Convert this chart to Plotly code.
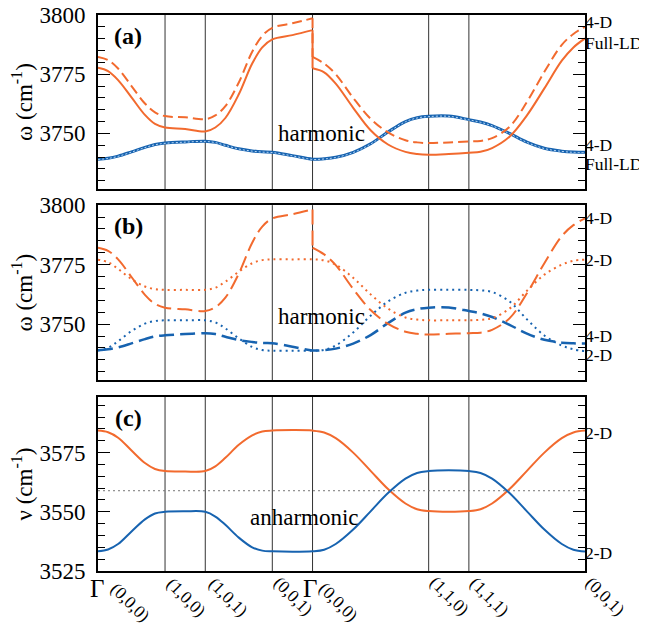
import plotly.graph_objects as go
from plotly.subplots import make_subplots

# ---------------- data ----------------
# high-symmetry points along the k-path (path length units)
k_nodes = [0.0, 1.0, 1.6, 2.6, 3.2, 4.932, 5.532, 7.264]
k_labels = ["(0,0,0)", "(1,0,0)", "(1,0,1)", "(0,0,1)",
            "(0,0,0)", "(1,1,0)", "(1,1,1)", "(0,0,1)"]
gamma_nodes = [0.0, 3.2]

# sampled k positions (continuous series)
k = [0.0, 0.15, 0.3, 0.5, 0.7, 0.85, 1.0,
     1.3, 1.6,
     1.75, 1.9, 2.1, 2.3, 2.45, 2.6,
     2.9, 3.2,
     3.373, 3.546, 3.806, 4.066, 4.326, 4.586, 4.759, 4.932,
     5.232, 5.532,
     5.705, 5.878, 6.138, 6.398, 6.658, 6.918, 7.091, 7.264]
# same path with the discontinuity at Gamma (k = 3.2 listed twice)
k_jump = [0.0, 0.15, 0.3, 0.5, 0.7, 0.85, 1.0,
          1.3, 1.6,
          1.75, 1.9, 2.1, 2.3, 2.45, 2.6,
          2.9, 3.2,
          3.2,
          3.373, 3.546, 3.806, 4.066, 4.326, 4.586, 4.759, 4.932,
          5.232, 5.532,
          5.705, 5.878, 6.138, 6.398, 6.658, 6.918, 7.091, 7.264]
N_LEFT = 17  # points before the jump at Gamma

# panel (a): harmonic, Full-LD vs 4-D
a_fullld_upper = [3777.7, 3776.3, 3772.5, 3765.2, 3757.8, 3754.0, 3752.5,
                  3751.9, 3750.8,
                  3752.5, 3756.5, 3766.5, 3779.5, 3786.3, 3789.7,
                  3791.5, 3793.6,
                  3777.5,
                  3775.8, 3771.0, 3760.8, 3751.3, 3745.3, 3742.2, 3741.3, 3741.0,
                  3741.3, 3741.8,
                  3742.2, 3743.8, 3748.6, 3757.6, 3769.0, 3780.7, 3786.3, 3790.1]
a_4d_upper = [3782.3, 3781.0, 3777.4, 3770.0, 3762.6, 3758.9, 3757.3,
              3756.8, 3756.0,
              3757.6, 3761.5, 3771.5, 3784.5, 3791.2, 3794.6,
              3796.5, 3798.6,
              3782.3,
              3779.5, 3775.0, 3765.0, 3756.2, 3750.4, 3747.1, 3746.2, 3745.9,
              3746.2, 3746.6,
              3746.8, 3748.0, 3752.8, 3763.3, 3776.0, 3787.4, 3792.0, 3795.0]
a_fullld_lower = [3739.1, 3739.5, 3740.4, 3742.2, 3744.1, 3745.3, 3745.9,
                  3746.4, 3746.7,
                  3746.2, 3745.0, 3743.5, 3742.6, 3742.2, 3742.0,
                  3740.6, 3739.1,
                  3739.3, 3739.9, 3742.0, 3745.6, 3750.6, 3755.0, 3756.6, 3757.2,
                  3757.3, 3755.8,
                  3754.8, 3753.3, 3750.0, 3746.3, 3743.7, 3742.5, 3742.1, 3742.0]
a_4d_lower = [3739.0, 3739.4, 3740.3, 3742.1, 3744.0, 3745.2, 3745.8,
              3746.3, 3746.6,
              3746.1, 3744.9, 3743.4, 3742.5, 3742.1, 3741.9,
              3740.5, 3739.0,
              3739.2, 3739.8, 3741.9, 3745.5, 3750.5, 3754.9, 3756.5, 3757.1,
              3757.2, 3755.7,
              3754.7, 3753.2, 3749.9, 3746.2, 3743.6, 3742.4, 3742.0, 3741.9]

# panel (b): harmonic, 4-D vs 2-D
b_4d_upper = [3782.1, 3780.8, 3777.2, 3769.8, 3762.3, 3758.5, 3756.9,
              3756.2, 3755.5,
              3757.1, 3761.1, 3771.2, 3784.2, 3791.0, 3794.4,
              3796.2, 3798.2,
              3782.1,
              3779.3, 3774.8, 3764.8, 3755.9, 3750.1, 3746.8, 3745.9, 3745.6,
              3745.9, 3746.2,
              3746.4, 3747.6, 3752.4, 3763.0, 3775.6, 3787.0, 3791.6, 3794.4]
b_2d_upper = [3777.1, 3776.0, 3773.2, 3768.9, 3765.8, 3764.7, 3764.4,
              3764.4, 3764.4,
              3765.3, 3767.8, 3772.0, 3775.6, 3776.9, 3777.2,
              3777.2, 3777.2,
              3776.8, 3775.0, 3769.5, 3762.5, 3756.5, 3752.8, 3751.9, 3751.6,
              3751.6, 3751.6,
              3751.8, 3752.5, 3756.5, 3764.0, 3770.8, 3775.0, 3776.6, 3777.1]
b_4d_lower = [3739.0, 3739.4, 3740.2, 3741.9, 3743.7, 3744.8, 3745.3,
              3745.8, 3746.2,
              3745.8, 3744.7, 3743.3, 3742.5, 3742.1, 3742.0,
              3740.5, 3738.9,
              3739.1, 3739.7, 3741.8, 3745.4, 3750.4, 3754.8, 3756.3, 3756.9,
              3757.0, 3755.5,
              3754.5, 3753.0, 3749.7, 3746.0, 3743.4, 3742.2, 3741.9, 3741.8]
b_2d_lower = [3738.9, 3740.0, 3742.8, 3747.1, 3750.2, 3751.3, 3751.6,
              3751.6, 3751.6,
              3750.7, 3748.2, 3744.0, 3740.4, 3739.1, 3738.8,
              3738.8, 3738.8,
              3739.2, 3741.0, 3746.5, 3753.5, 3759.5, 3763.2, 3764.1, 3764.4,
              3764.4, 3764.4,
              3764.2, 3763.5, 3759.5, 3752.0, 3745.2, 3741.0, 3739.4, 3738.6]

# panel (c): anharmonic, 2-D
c_upper = [3584.3, 3583.6, 3581.3, 3575.9, 3570.6, 3568.1, 3567.2,
           3567.0, 3567.2,
           3569.2, 3572.8, 3578.3, 3582.3, 3583.9, 3584.3,
           3584.5, 3584.3,
           3583.5, 3581.1, 3575.0, 3567.3, 3559.6, 3553.5, 3551.1, 3550.3,
           3550.0, 3550.3,
           3551.1, 3553.5, 3559.6, 3567.3, 3575.0, 3581.1, 3583.5, 3584.3]
c_lower = [3533.3, 3534.1, 3536.4, 3541.7, 3546.8, 3549.3, 3550.0,
           3550.2, 3550.0,
           3548.0, 3544.5, 3539.1, 3535.0, 3533.6, 3533.3,
           3533.1, 3533.3,
           3534.0, 3536.4, 3542.5, 3550.2, 3557.9, 3564.0, 3566.4, 3567.2,
           3567.5, 3567.2,
           3566.4, 3564.0, 3557.9, 3550.2, 3542.5, 3536.4, 3534.0, 3533.2]
c_center = 3558.9

# right-hand labels: (text, value)
a_right = [("4-D", 3797.2), ("Full-LD", 3788.3), ("4-D", 3745.2), ("Full-LD", 3737.2)]
b_right = [("4-D", 3794.5), ("2-D", 3777.1), ("4-D", 3744.9), ("2-D", 3736.9)]
c_right = [("2-D", 3583.3), ("2-D", 3532.7)]

# ---------------- styling ----------------
ORANGE = "#F26A2E"
BLUE = "#1763B0"
FONT = "'Liberation Serif', 'Times New Roman', Times, serif"

fig = make_subplots(rows=3, cols=1, shared_xaxes=False)


def add(x, y, row, color, dash="solid", width=2.0):
    fig.add_trace(go.Scatter(x=x, y=y, mode="lines",
                             line=dict(color=color, width=width, dash=dash,
                                       shape="spline", smoothing=1.0),
                             showlegend=False, hoverinfo="skip"), row=row, col=1)


def add_jump(x, y, row, color, dash="solid", width=2.0):
    # left branch, vertical jump at Gamma, right branch
    add(x[:N_LEFT], y[:N_LEFT], row, color, dash, width)
    fig.add_trace(go.Scatter(x=x[N_LEFT - 1:N_LEFT + 1], y=y[N_LEFT - 1:N_LEFT + 1], mode="lines",
                             line=dict(color=color, width=width, dash=dash),
                             showlegend=False, hoverinfo="skip"), row=row, col=1)
    add(x[N_LEFT:], y[N_LEFT:], row, color, dash, width)


# (a)
add(k, a_fullld_lower, 1, BLUE, width=3)
add(k, a_4d_lower, 1, "rgba(190,220,250,0.95)", dash="2px,2px", width=1)
add_jump(k_jump, a_fullld_upper, 1, ORANGE)
add_jump(k_jump, a_4d_upper, 1, ORANGE, dash="10px,5px")
# (b)
add(k, b_2d_lower, 2, BLUE, dash="2px,4px")
add(k, b_4d_lower, 2, BLUE, dash="15px,6px", width=2.5)
add(k, b_2d_upper, 2, ORANGE, dash="2px,4px")
add_jump(k_jump, b_4d_upper, 2, ORANGE, dash="15px,6px")
# (c)
add(k, c_upper, 3, ORANGE)
add(k, c_lower, 3, BLUE)

# domains
doms = [[0.687, 1.0], [0.3435, 0.658], [0.0, 0.313]]
yranges = [[3726.5, 3800], [3726.5, 3800], [3525, 3598.5]]
titles = ["ω (cm<sup>-1</sup>)", "ω (cm<sup>-1</sup>)", "ν (cm<sup>-1</sup>)"]

for i in range(3):
    r = i + 1
    fig.update_yaxes(row=r, col=1, domain=doms[i], range=yranges[i], automargin=False,
                     dtick=25, tick0=3500, ticks="inside", ticklen=12, tickwidth=1,
                     tickcolor="black", showline=True, linewidth=2, linecolor="black",
                     mirror="ticks", showgrid=False, zeroline=False, ticklabelstandoff=6,
                     ticklabeloverflow="allow",
                     tickfont=dict(family=FONT, size=23, color="black"),
                     minor=dict(dtick=5, tick0=3500, ticks="inside", ticklen=7,
                                tickcolor="black", tickwidth=1, showgrid=False),
                     title=dict(text=titles[i], font=dict(family=FONT, size=23, color="black"),
                                standoff=10))
    fig.update_xaxes(row=r, col=1, range=[0, k_nodes[-1]], showline=True, linewidth=2,
                     automargin=False, showticklabels=False,
                     linecolor="black", mirror=True, showgrid=False, zeroline=False,
                     ticks="")
    xr = "x" if r == 1 else f"x{r}"
    yr = "y" if r == 1 else f"y{r}"
    for kn in k_nodes[1:-1]:
        fig.add_shape(type="line", xref=xr, yref=f"{yr} domain", x0=kn, x1=kn, y0=0, y1=1,
                      line=dict(color="#333333", width=1), layer="below")

# rotated k-point labels under panel (c)
lab_shift_x = [7, -4, -2, -4, 1, -4, -4, -5]
lab_shift_y = [-6, -1, -1, 0, -6, 0, -1, 0]
for kn, txt, sx, sy in zip(k_nodes, k_labels, lab_shift_x, lab_shift_y):
    fig.add_annotation(xref="x3", yref="paper", x=kn, y=0, text=txt, showarrow=False,
                       textangle=45, xanchor="left", yanchor="top", xshift=sx, yshift=sy,
                       borderpad=0, font=dict(family=FONT, size=17.5, color="black"))

# center dotted line in (c)
fig.add_shape(type="line", xref="x3 domain", yref="y3", x0=0, x1=1, y0=c_center, y1=c_center,
              line=dict(color="#777777", width=1, dash="2px,3px"), layer="below")

# panel labels
for i, lab in enumerate(["(a)", "(b)", "(c)"]):
    r = i + 1
    xr = "x" if r == 1 else f"x{r}"
    yr = "y" if r == 1 else f"y{r}"
    fig.add_annotation(xref=f"{xr} domain", yref=f"{yr} domain", x=0.062, y=0.88,
                       text=f"<b>{lab}</b>", showarrow=False, xanchor="center", yanchor="middle",
                       font=dict(family=FONT, size=24, color="black"))

fig.add_annotation(xref="x", yref="y", x=3.33, y=3750.0, text="harmonic", showarrow=False,
                   font=dict(family=FONT, size=23, color="black"))
fig.add_annotation(xref="x2", yref="y2", x=3.33, y=3753.4, text="harmonic", showarrow=False,
                   font=dict(family=FONT, size=23, color="black"))
fig.add_annotation(xref="x3", yref="y3", x=3.077, y=3547.5, text="anharmonic", showarrow=False,
                   font=dict(family=FONT, size=23, color="black"))

for r, labs in [(1, a_right), (2, b_right), (3, c_right)]:
    xr = "x" if r == 1 else f"x{r}"
    yr = "y" if r == 1 else f"y{r}"
    for txt, val in labs:
        fig.add_annotation(xref=f"{xr} domain", yref=yr, x=1.0, y=val, text=txt, showarrow=False,
                           xanchor="left", yanchor="middle", xshift=-2,
                           font=dict(family=FONT, size=17.5, color="black"))

# Gamma symbols
for g, sh in zip(gamma_nodes, [-1.5, -2.5]):
    fig.add_annotation(xref="x3", yref="paper", x=g, y=0, text="Γ", showarrow=False,
                       xanchor="center", yanchor="top", xshift=sh, yshift=-2,
                       font=dict(family=FONT, size=25, color="black"))

# the page body keeps an 8 px margin, so the figure is 8 px smaller than the window
fig.update_layout(width=639, height=624, margin=dict(l=90, r=62, t=7, b=61),
                  paper_bgcolor="white", plot_bgcolor="white",
                  font=dict(family=FONT, color="black"))

fig.write_html("out.html")
